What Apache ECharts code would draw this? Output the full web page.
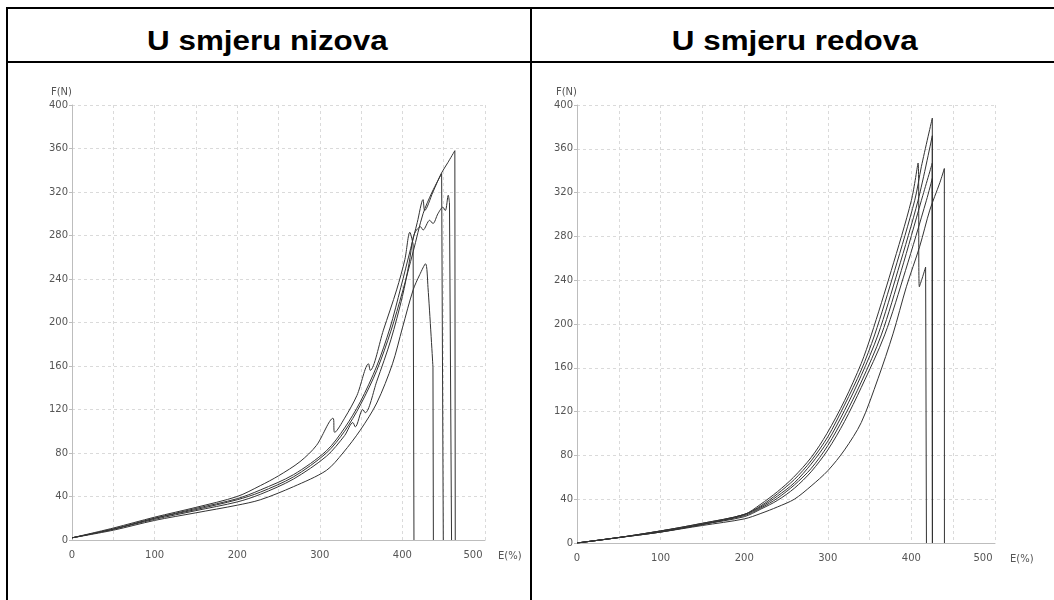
<!DOCTYPE html>
<html>
<head>
<meta charset="utf-8">
<script src="https://cdn.jsdelivr.net/npm/echarts@6/dist/echarts.min.js"></script>
<style>
  html, body { margin: 0; padding: 0; background: #fff; }
  .page { position: relative; width: 1054px; height: 600px; overflow: hidden; }
  .box { position: absolute; left: 6px; top: 7px; width: 1060px; height: 640px; border: 2px solid #000; box-sizing: border-box; }
  .hline { position: absolute; left: 6px; top: 61px; width: 1060px; height: 2px; background: #000; }
  .vline { position: absolute; left: 530px; top: 7px; width: 2px; height: 600px; background: #000; }
  .head { position: absolute; top: 25px; width: 400px; line-height: 32px; text-align: center;
          font: bold 28px "Liberation Sans", Arial, sans-serif; color: #000; }
  .head span { display: inline-block; transform: scaleX(1.12); }
  #chart { position: absolute; left: 0; top: 0; width: 1054px; height: 600px; }
</style>
</head>
<body>
<div class="page">
  <div class="box"></div>
  <div class="hline"></div>
  <div class="vline"></div>
  <div class="head" style="left:67px"><span>U smjeru nizova</span></div>
  <div class="head" style="left:595px"><span>U smjeru redova</span></div>
  <div id="chart"></div>
</div>
<script>
// E(%) / F(N) tocke ocitane sa slike, zadnja tocka = pucanje (pad na 0)
// u smjeru nizova
const nizA = [[0,2],[50,11],[100,21],[150,30],[200,40],[228,50],[250,59],[276,72],[296,87],[316,112],[318,99],[330,112],[345,133],[359,162],[361,156],[377,193],[393,230],[403,258],[409,283],[413,272],[414,0]]
const nizB = [[0,2],[50,9],[100,18],[150,25],[200,32],[228,37],[268,49],[308,64],[328,80],[349,101],[369,126],[388,162],[400,195],[413,230],[421,244],[428,254],[431,232],[437,159],[437.5,0]]
const nizC = [[0,2],[50,10],[100,20],[150,28],[200,37],[228,44],[268,58],[308,80],[330,100],[349,124],[369,156],[386,192],[400,228],[413,265],[425,300],[436,320],[447.5,337],[449.5,0]]
const nizD = [[0,2],[50,10],[100,19],[150,27],[200,35],[228,42],[268,56],[308,77],[330,96],[340,108],[343,104],[352,120],[355,117],[369,146],[386,184],[400,224],[408,254],[413,278],[417,285],[422,288],[425,285],[433,294],[437,291],[443,300],[449,306],[452,303],[455.5,317],[457,310],[459.5,0]]
const nizE = [[0,2],[50,10],[100,20],[150,29],[200,38],[228,46],[268,60],[308,82],[330,103],[349,127],[369,160],[385,195],[398,232],[410,268],[418,292],[425,313],[427,303],[437,320],[447,337],[455,347],[463.5,358],[464,0]]

// u smjeru redova
const redA = [[0,0],[50,5],[100,11],[150,18],[200,26],[219,35],[240,47],[259,60],[280,78],[299,100],[320,130],[340,164],[352,190],[376,249],[400,313],[408,347],[409.5,234],[413,242],[417,252],[418,0]]
const redB = [[0,0],[50,5],[100,11],[150,18],[200,26],[220,34],[240,45],[260,58],[280,75],[300,97],[320,126],[340,158],[356,190],[380,249],[404,313],[412,344],[425,388],[425.2,0]]
const redC = [[0,0],[50,5],[100,11],[150,17],[200,26],[220,33],[240,43],[260,55],[280,72],[300,93],[320,121],[340,153],[360,190],[384,249],[408,313],[425,372],[425.2,0]]
const redD = [[0,0],[50,5],[100,10],[150,17],[200,25],[220,32],[240,41],[260,53],[280,68],[300,89],[320,116],[340,147],[364,190],[388,249],[412,313],[425,347],[425.2,0]]
const redE = [[0,0],[50,5],[100,10],[150,17],[200,24],[220,31],[240,39],[260,50],[280,65],[300,85],[320,111],[340,142],[368,190],[393,249],[418,313],[425,333],[425.2,0]]
const redF = [[0,0],[50,5],[100,10],[150,16],[200,22],[220,27],[240,33],[260,40],[280,52],[300,66],[320,85],[340,110],[360,150],[378,191],[394,234],[410,271],[422,304],[434,329],[439.4,342],[439.5,0]]

const nizovi = [nizA, nizB, nizC, nizD, nizE]
const redovi = [redA, redB, redC, redD, redE, redF]

const labelFont = 'DejaVu Sans, Verdana, sans-serif'
const gridLine = { show: true, lineStyle: { color: '#dadada', type: [3, 3], width: 1 } }

function xAxis (i, gap) {
  return {
    type: 'value', gridIndex: i, min: 0, max: 500, interval: 100,
    name: 'E(%)', nameLocation: 'end', nameGap: gap,
    nameTextStyle: { color: '#555', fontSize: 10, fontFamily: labelFont, align: 'left', verticalAlign: 'top', padding: [11, 0, 0, 0] },
    axisLine: { show: true, lineStyle: { color: '#bdbdbd' } },
    axisTick: { show: false },
    axisLabel: {
      margin: 10, color: '#555', fontSize: 10, fontFamily: labelFont,
      formatter: v => v === 500 ? '{s|500}' : String(v),
      rich: { s: { padding: [0, 24, 0, 0], color: '#555', fontSize: 10, fontFamily: labelFont } }
    },
    splitLine: gridLine,
    minorTick: { show: false, splitNumber: 2 },
    minorSplitLine: gridLine
  }
}

function yAxis (i) {
  return {
    type: 'value', gridIndex: i, min: 0, max: 400, interval: 40,
    name: 'F(N)', nameLocation: 'end', nameGap: 13,
    nameTextStyle: { color: '#555', fontSize: 10, fontFamily: labelFont, align: 'right', verticalAlign: 'middle' },
    axisLine: { show: true, lineStyle: { color: '#bdbdbd' } },
    axisTick: { show: true, length: 3, lineStyle: { color: '#bdbdbd' } },
    axisLabel: { margin: 4, color: '#555', fontSize: 10, fontFamily: labelFont },
    splitLine: gridLine
  }
}

// tijelo krivulje zaglađeno, pad na 0 ravna crta
function curve (data, i) {
  const base = {
    type: 'line', xAxisIndex: i, yAxisIndex: i,
    showSymbol: false, silent: true,
    lineStyle: { color: '#333', width: 1 }
  }
  return [
    Object.assign({}, base, { data: data.slice(0, -1), smooth: 0.3 }),
    Object.assign({}, base, { data: data.slice(-2) })
  ]
}

let series = []
nizovi.forEach(d => { series = series.concat(curve(d, 0)) })
redovi.forEach(d => { series = series.concat(curve(d, 1)) })

const chart = echarts.init(document.getElementById('chart'))
chart.setOption({
  animation: false,
  grid: [
    { left: 72, top: 105, width: 413, height: 435 },
    { left: 577, top: 105, width: 418, height: 438 }
  ],
  xAxis: [xAxis(0, 13), xAxis(1, 15)],
  yAxis: [yAxis(0), yAxis(1)],
  series: series
})
</script>
</body>
</html>
